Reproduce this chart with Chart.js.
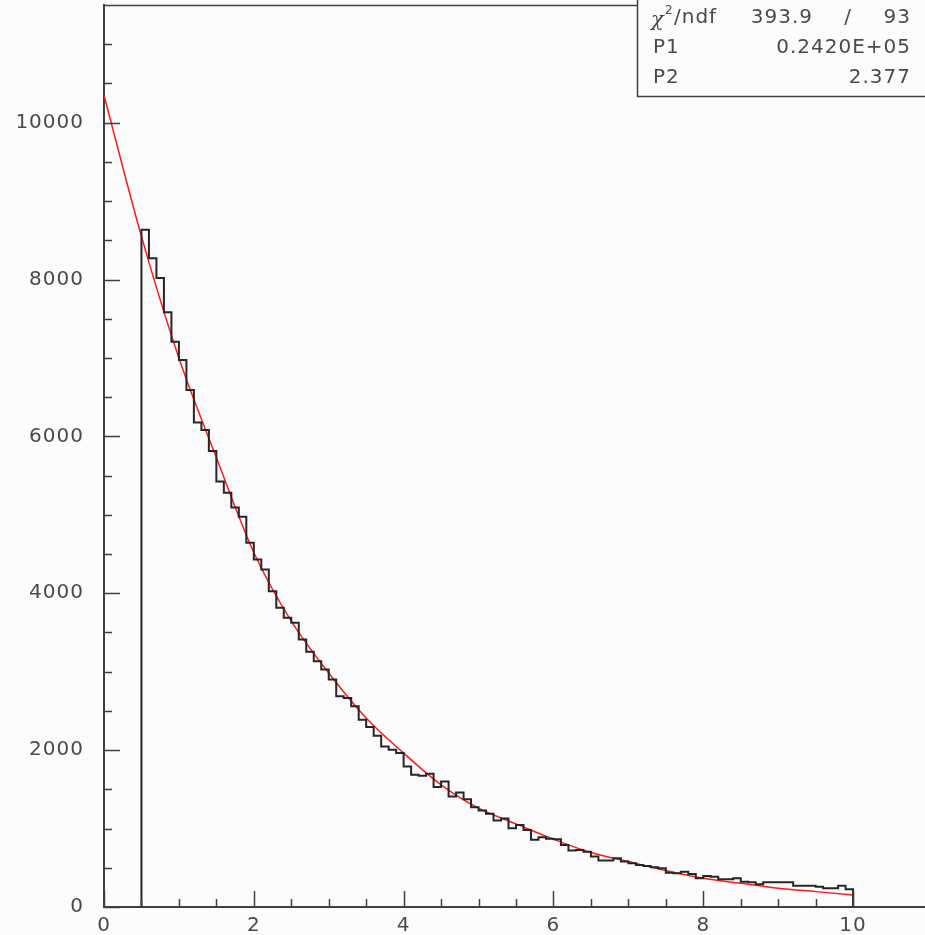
<!DOCTYPE html>
<html>
<head>
<meta charset="utf-8">
<script src="https://cdn.jsdelivr.net/npm/chart.js@4.4.1/dist/chart.umd.min.js"></script>
<style>
html, body { margin: 0; padding: 0; background: #fcfcfc; }
#wrap { width: 925px; height: 935px; }
</style>
</head>
<body>
<div id="wrap"><canvas id="myChart"></canvas></div>
<script>
// histogram: 95 bins of width 0.1 starting at 0.5
var binStart = 0.5;
var binWidth = 0.1;
var counts = [
    8633, 8270, 8020, 7582, 7207, 6973, 6593, 6177, 6083, 5815,
    5424, 5283, 5092, 4977, 4645, 4432, 4304, 4027, 3814, 3687,
    3623, 3410, 3253, 3133, 3027, 2899, 2686, 2665, 2558, 2388,
    2295, 2184, 2047, 2005, 1962, 1792, 1686, 1673, 1699, 1529,
    1601, 1409, 1460, 1375, 1273, 1230, 1188, 1103, 1128, 1005,
    1047, 983, 856, 890, 869, 865, 792, 719, 728, 706,
    643, 592, 592, 621, 579, 558, 536, 524, 507, 494,
    438, 430, 451, 421, 366, 396, 387, 353, 353, 366,
    323, 315, 290, 315, 315, 315, 315, 272, 272, 272,
    259, 238, 238, 272, 226
];

// fitted curve
var fitX = [0, 0.5, 1, 1.5, 2, 2.5, 3, 3.5, 4, 4.5, 5, 5.5, 6, 6.5, 7, 7.5, 8, 8.5, 9, 9.5, 10];
var fitY = [10350, 8550, 7000, 5730, 4520, 3644, 2984, 2410, 1962, 1558, 1260, 1060, 865, 694, 579, 464, 366, 303, 239, 196, 153];

var xTickLabels = ['0', '2', '4', '6', '8', '10'];
var yTickLabels = ['0', '2000', '4000', '6000', '8000', '10000'];

var statNames = ['/ndf', 'P1', 'P2'];
var statValues = ['393.9', '0.2420E+05', '2.377'];
var statNdf = '93';

var histPoints = [{x: binStart, y: 0}];
counts.forEach(function (c, i) {
    histPoints.push({x: binStart + i * binWidth, y: c});
});
var binEnd = binStart + counts.length * binWidth;
histPoints.push({x: binEnd, y: counts[counts.length - 1]});
histPoints.push({x: binEnd, y: 0});

var fitPoints = fitX.map(function (x, i) { return {x: x, y: fitY[i]}; });

var axisColor = '#404040';
var textColor = '#4a4a4a';
var textFont = '20px "DejaVu Sans"';

var rootFrame = {
    id: 'rootFrame',
    beforeDraw: function (chart) {
        chart.ctx.letterSpacing = '1px';
    },
    afterDraw: function (chart) {
        var ctx = chart.ctx;
        var a = chart.chartArea;
        var xs = chart.scales.x, ys = chart.scales.y;
        ctx.save();
        ctx.strokeStyle = axisColor;
        ctx.lineWidth = 1.5;
        // top frame line
        ctx.beginPath();
        ctx.moveTo(a.left, a.top + 0.5);
        ctx.lineTo(a.right, a.top + 0.5);
        ctx.stroke();
        // tick marks drawn inside the frame
        ctx.beginPath();
        xs.ticks.forEach(function (t) {
            var px = Math.round(xs.getPixelForValue(t.value)) + 0.5;
            var len = (Math.abs(t.value % 2) < 1e-6) ? 16 : 8;
            ctx.moveTo(px, a.bottom);
            ctx.lineTo(px, a.bottom - len);
        });
        ys.ticks.forEach(function (t) {
            var py = Math.round(ys.getPixelForValue(t.value)) + 0.5;
            var len = (t.value % 2000 === 0) ? 16 : 8;
            ctx.moveTo(a.left, py);
            ctx.lineTo(a.left + len, py);
        });
        ctx.stroke();

        // stats box
        var bx = 637, by = 96, right = chart.width;
        ctx.fillStyle = '#fcfcfc';
        ctx.fillRect(bx, 0, right - bx, by);
        ctx.beginPath();
        ctx.moveTo(bx + 0.5, 0);
        ctx.lineTo(bx + 0.5, by + 0.5);
        ctx.lineTo(right, by + 0.5);
        ctx.stroke();

        ctx.fillStyle = textColor;
        ctx.font = textFont;
        ctx.textBaseline = 'middle';
        var rows = [18, 48, 78];
        // chi2 row
        ctx.textAlign = 'left';
        ctx.font = 'italic 21px "DejaVu Serif"';
        ctx.fillText('\u03C7', 651, rows[0] + 3);
        ctx.font = '12px "DejaVu Sans"';
        ctx.fillText('2', 665, rows[0] - 7);
        ctx.font = textFont;
        ctx.fillText(statNames[0], 674, rows[0]);
        ctx.textAlign = 'right';
        ctx.fillText(statValues[0], 813, rows[0]);
        ctx.textAlign = 'center';
        ctx.fillText('/', 848, rows[0]);
        ctx.textAlign = 'right';
        ctx.fillText(statNdf, 911, rows[0]);
        for (var i = 1; i < 3; i++) {
            ctx.textAlign = 'left';
            ctx.fillText(statNames[i], 653, rows[i]);
            ctx.textAlign = 'right';
            ctx.fillText(statValues[i], 911, rows[i]);
        }
        ctx.restore();
        ctx.letterSpacing = '0px';
    }
};

var ctx = document.getElementById('myChart');
var myChart = new Chart(ctx, {
    type: 'line',
    data: {
        datasets: [{
            label: 'hist',
            data: histPoints,
            stepped: 'before',
            borderColor: '#262626',
            borderWidth: 2,
            pointRadius: 0,
            fill: false
        }, {
            label: 'fit',
            data: fitPoints,
            cubicInterpolationMode: 'monotone',
            borderColor: '#ff1a1a',
            borderWidth: 1.5,
            pointRadius: 0,
            fill: false
        }]
    },
    options: {
        responsive: true,
        maintainAspectRatio: false,
        animation: false,
        layout: { padding: { top: 5, right: 0, left: 0, bottom: 0 } },
        plugins: {
            legend: { display: false },
            tooltip: { enabled: false },
            title: { display: false }
        },
        scales: {
            x: {
                type: 'linear',
                min: 0,
                max: 10.96,
                afterFit: function (s) {
                    s.height = 28;
                    s.paddingLeft = 0; s.paddingRight = 0;
                    s.paddingTop = 0; s.paddingBottom = 0;
                },
                afterBuildTicks: function (s) {
                    s.ticks = s.ticks.filter(function (t) { return Math.abs(t.value * 2 - Math.round(t.value * 2)) < 1e-6; });
                },
                grid: { display: false, drawTicks: false },
                border: { display: true, color: axisColor, width: 2 },
                ticks: {
                    stepSize: 0.5,
                    autoSkip: false,
                    maxRotation: 0,
                    padding: 7,
                    color: textColor,
                    font: { family: 'DejaVu Sans', size: 20 },
                    callback: function (v) {
                        var s = String(v);
                        return xTickLabels.indexOf(s) >= 0 ? s : '';
                    }
                }
            },
            y: {
                min: 0,
                max: 11500,
                afterFit: function (s) {
                    s.width = 104;
                    s.paddingTop = 0; s.paddingBottom = 0;
                    s.paddingLeft = 0; s.paddingRight = 0;
                },
                afterBuildTicks: function (s) {
                    s.ticks = s.ticks.filter(function (t) { return t.value % 500 === 0 && t.value < 11500; });
                },
                grid: { display: false, drawTicks: false },
                border: { display: true, color: axisColor, width: 2 },
                ticks: {
                    stepSize: 500,
                    autoSkip: false,
                    padding: 20,
                    color: textColor,
                    font: { family: 'DejaVu Sans', size: 20 },
                    callback: function (v) {
                        var s = String(v);
                        return yTickLabels.indexOf(s) >= 0 ? s : '';
                    }
                }
            }
        }
    },
    plugins: [rootFrame]
});
</script>
</body>
</html>
